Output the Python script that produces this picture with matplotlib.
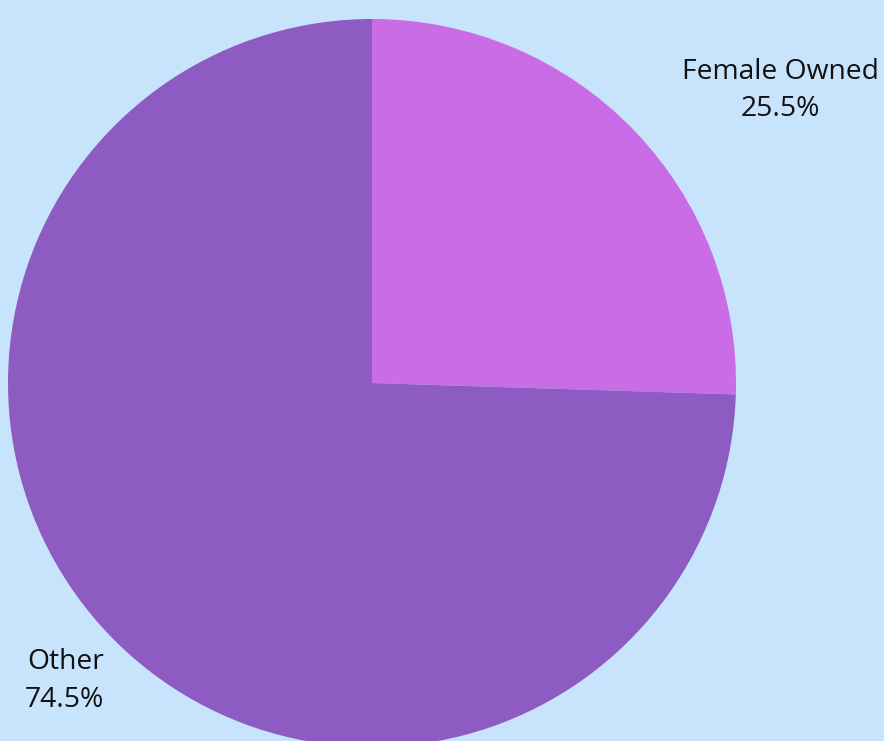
import matplotlib
matplotlib.use("Agg")
import matplotlib.pyplot as plt

labels = ["Female Owned", "Other"]
shares = [25.5, 74.5]
colors = ["#C96CE6", "#8E5BC3"]
bg = "#C8E4FD"

W, H = 884, 741
fig = plt.figure(figsize=(W / 100, H / 100), dpi=100)
fig.patch.set_facecolor(bg)
ax = fig.add_axes([0, 0, 1, 1])
ax.set_facecolor(bg)

# pie in pixel space: center (372, 383) from top, radius 364
ax.pie(shares, colors=colors, startangle=90, counterclock=False,
       center=(372, H - 383), radius=364,
       wedgeprops=dict(linewidth=0, antialiased=True))
ax.set_xlim(0, W)
ax.set_ylim(0, H)
ax.set_aspect("equal")
ax.axis("off")

font = dict(family=["Open Sans", "DejaVu Sans"], fontsize=20.3, color="#111111")
ax.text(780, H - 72, labels[0], ha="center", va="center", **font)
ax.text(780, H - 109, f"{shares[0]}%", ha="center", va="center", **font)
ax.text(27, H - 662, labels[1], ha="left", va="center", **font)
ax.text(25, H - 700, f"{shares[1]}%", ha="left", va="center", **font)

fig.savefig("out.png", dpi=100, facecolor=bg)
